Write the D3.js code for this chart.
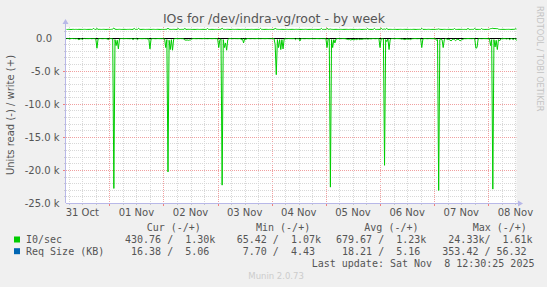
<!DOCTYPE html>
<html><head><meta charset="utf-8">
<script src="https://cdn.jsdelivr.net/npm/d3@7"></script>
<style>body{margin:0;background:#f0f0f0}svg{display:block}</style>
</head><body><svg id="c" width="547" height="287"></svg>
<script>
// ---- data (IO/sec, thousands; 30-minute samples starting 31 Oct 05:00) ----
const sampleStart = Date.UTC(2025, 9, 31, 5, 0);
const sampleStepMin = 30;
const readK = [
// 31 Oct 05:00-23:30
-0.15,-0.12,-0.15,-0.18,-0.15,-0.12,-0.15,-0.14,-0.16,-0.15,
-0.18,-0.32,-0.20,-0.15,-0.30,-0.16,-0.12,-0.15,-0.14,-0.15,
-0.15,-0.13,-0.16,-0.15,-0.14,-0.15,-0.20,-1.60,-0.20,-0.15,
-0.14,-0.15,-0.16,-0.15,-0.14,-0.15,-0.18,-0.30,
// 01 Nov
-0.15,-0.14,-0.15,-0.20,-22.8,-0.30,-1.20,-0.40,-1.70,-0.20,
-0.15,-0.14,-0.15,-0.16,-0.15,-0.14,-0.15,-0.15,-0.16,-0.15,
-0.14,-0.30,-0.15,-0.16,-0.15,-0.30,-0.15,-0.14,-0.15,-0.16,
-0.15,-0.14,-0.15,-0.15,-0.20,-0.15,-1.70,-0.20,-0.15,-0.14,
-0.15,-0.16,-0.15,-0.14,-0.15,-0.15,-0.16,-0.15,
// 02 Nov
-0.15,-0.20,-1.50,-0.30,-20.3,-0.40,-1.80,-0.30,-1.90,-0.25,
-0.15,-0.14,-0.15,-0.16,-0.15,-0.14,-0.15,-0.15,-0.20,-0.35,
-0.38,-0.35,-0.40,-0.36,-0.35,-0.20,-0.15,-0.14,-0.15,-0.16,
-0.15,-0.14,-0.15,-0.15,-0.16,-0.15,-0.14,-0.15,-0.15,-0.16,
-0.15,-0.14,-0.15,-0.16,-0.15,-0.14,-0.15,-0.15,
// 03 Nov
-0.15,-1.50,-0.30,-0.20,-22.3,-0.30,-1.50,-0.80,-1.90,-0.30,
-0.15,-0.14,-0.15,-0.16,-0.15,-0.14,-0.15,-0.15,-0.16,-0.15,
-0.14,-0.30,-0.15,-0.80,-0.15,-0.30,-0.15,-0.14,-0.15,-0.16,
-0.15,-0.14,-0.15,-0.16,-0.15,-0.14,-0.15,-0.15,-0.16,-0.15,
-0.14,-0.15,-0.16,-0.15,-0.14,-0.15,-0.15,-0.16,
// 04 Nov
-0.15,-0.14,-0.15,-1.00,-5.60,-0.30,-1.50,-0.30,-1.80,-0.30,
-1.70,-0.20,-0.15,-0.16,-0.15,-0.14,-0.15,-0.15,-0.16,-0.15,
-0.14,-0.30,-0.15,-0.16,-0.15,-0.50,-0.15,-0.14,-0.15,-0.16,
-0.15,-0.14,-0.15,-0.16,-0.15,-0.14,-0.15,-0.15,-0.16,-0.15,
-0.14,-0.15,-0.16,-0.15,-0.14,-0.15,-0.15,-0.16,
// 05 Nov
-0.15,-1.50,-0.20,-0.15,-22.6,-0.30,-1.50,-0.30,-0.80,-0.20,
-0.15,-0.14,-0.15,-0.16,-0.15,-0.14,-0.15,-0.15,-0.20,-0.25,
-0.30,-0.22,-0.40,-0.25,-0.30,-0.35,-0.22,-0.30,-0.25,-0.20,
-0.30,-0.22,-0.25,-0.20,-0.18,-0.20,-0.15,-0.22,-0.20,-0.15,
-0.20,-0.15,-0.14,-0.15,-0.16,-0.15,-0.14,-0.15,
// 06 Nov
-1.50,-0.20,-0.15,-0.20,-19.3,-0.30,-0.60,-0.20,-1.80,-0.30,
-0.15,-0.14,-0.15,-0.16,-0.15,-0.14,-0.15,-0.15,-0.16,-0.22,
-0.20,-0.25,-0.30,-0.22,-0.20,-0.25,-0.22,-0.30,-0.20,-0.15,
-0.15,-0.14,-0.15,-0.16,-0.15,-0.14,-0.20,-1.50,-0.20,-0.15,
-0.14,-0.15,-0.16,-0.15,-0.14,-0.15,-0.15,-0.16,
// 07 Nov
-0.15,-0.14,-0.40,-0.30,-23.1,-0.30,-0.20,-0.30,-1.50,-0.30,
-0.15,-0.20,-0.30,-0.25,-0.35,-0.50,-0.30,-0.25,-0.30,-0.45,
-0.30,-0.25,-0.30,-0.50,-0.35,-0.30,-0.20,-0.15,-0.16,-0.15,
-0.14,-0.15,-0.15,-0.16,-0.15,-0.14,-0.20,-1.60,-1.50,-0.20,
-0.14,-0.15,-0.16,-0.15,-0.14,-0.15,-0.15,-0.16,
// 08 Nov 00:00-12:30
-0.15,-0.14,-1.20,-0.30,-22.9,-0.30,-1.40,-0.40,-1.80,-0.30,
-0.50,-0.20,-0.15,-0.16,-0.15,-0.14,-0.20,-0.15,-0.15,-0.30,
-0.15,-0.14,-0.30,-0.15,-0.16,-0.43
];
const writeK = [
// 31 Oct
1.25,1.24,1.26,1.25,1.23,1.25,1.26,1.24,1.25,1.25,
1.24,1.26,1.25,1.25,1.24,1.25,1.26,1.25,1.24,1.25,
1.25,1.26,1.24,1.25,1.42,1.25,1.24,1.38,1.25,1.26,
1.25,1.24,1.25,1.26,1.25,1.24,1.25,1.26,
// 01 Nov
1.25,1.24,1.26,1.30,1.45,1.28,1.25,1.24,1.25,1.26,
1.25,1.24,1.25,1.26,1.25,1.24,1.25,1.25,1.26,1.25,
1.24,1.25,1.40,1.25,1.26,1.25,1.42,1.25,1.24,1.25,
1.26,1.25,1.24,1.25,1.25,1.26,1.25,1.24,1.25,1.26,
1.25,1.24,1.25,1.26,1.25,1.24,1.25,1.25,
// 02 Nov
1.25,1.24,1.26,1.28,1.42,1.27,1.25,1.24,1.25,1.26,
1.25,1.24,1.25,1.38,1.25,1.24,1.25,1.25,1.26,1.40,
1.24,1.25,1.26,1.25,1.26,1.25,1.24,1.25,1.24,1.25,
1.26,1.25,1.24,1.25,1.25,1.26,1.25,1.24,1.25,1.38,
1.25,1.24,1.25,1.26,1.25,1.24,1.25,1.25,
// 03 Nov
1.25,1.24,1.26,1.27,1.42,1.26,1.25,1.24,1.25,1.26,
1.25,1.24,1.25,1.26,1.25,1.24,1.25,1.25,1.26,1.25,
1.24,1.25,1.26,1.25,1.26,1.25,1.24,1.25,1.24,1.25,
1.26,1.25,1.24,1.25,1.25,1.26,1.25,1.24,1.40,1.25,
1.25,1.24,1.25,1.26,1.25,1.24,1.25,1.25,
// 04 Nov
1.25,1.24,1.26,1.40,1.30,1.26,1.25,1.24,1.25,1.26,
1.25,1.24,1.25,1.26,1.25,1.24,1.25,1.25,1.26,1.25,
1.24,1.25,1.26,1.25,1.26,1.25,1.24,1.25,1.24,1.25,
1.26,1.25,1.24,1.25,1.25,1.26,1.25,1.24,1.25,1.25,
1.25,1.24,1.25,1.26,1.40,1.24,1.25,1.25,
// 05 Nov
1.25,1.42,1.26,1.27,1.30,1.26,1.25,1.24,1.25,1.26,
1.25,1.24,1.25,1.26,1.25,1.24,1.25,1.25,1.26,1.25,
1.24,1.25,1.26,1.25,1.26,1.25,1.24,1.25,1.24,1.25,
1.26,1.25,1.24,1.25,1.25,1.26,1.25,1.38,1.25,1.25,
1.25,1.24,1.25,1.40,1.25,1.24,1.25,1.25,
// 06 Nov
1.25,1.42,1.26,1.27,1.30,1.26,1.40,1.24,1.25,1.26,
1.25,1.24,1.25,1.26,1.25,1.24,1.25,1.25,1.26,1.25,
1.24,1.25,1.26,1.25,1.26,1.25,1.24,1.25,1.24,1.25,
1.26,1.25,1.24,1.25,1.25,1.26,1.25,1.42,1.25,1.25,
1.25,1.24,1.25,1.26,1.25,1.24,1.25,1.25,
// 07 Nov
1.25,1.24,1.26,1.27,1.32,1.26,1.25,1.24,1.25,1.26,
1.25,1.24,1.25,1.26,1.25,1.24,1.25,1.25,1.38,1.25,
1.24,1.25,1.26,1.25,1.26,1.25,1.24,1.25,1.24,1.25,
1.40,1.25,1.24,1.25,1.25,1.26,1.40,1.24,1.25,1.25,
1.25,1.24,1.38,1.26,1.25,1.24,1.25,1.25,
// 08 Nov
1.25,1.28,1.36,1.38,1.42,1.37,1.38,1.36,1.37,1.28,
1.25,1.24,1.25,1.26,1.25,1.24,1.25,1.25,1.26,1.25,
1.24,1.25,1.26,1.25,1.35,1.30
];
const yTickValues = [0, -5, -10, -15, -20, -25];
const yTickLabels = ["0.0", "-5.0 k", "-10.0 k", "-15.0 k", "-20.0 k", "-25.0 k"];
const dayLabels = ["31 Oct","01 Nov","02 Nov","03 Nov","04 Nov","05 Nov","06 Nov","07 Nov","08 Nov"];
const legendNames = ["I0/sec", "Req Size (KB)"];
const legendColors = ["#00cc00", "#0066b3"];
const colHeaders = ["Cur (-/+)", "Min (-/+)", "Avg (-/+)", "Max (-/+)"];
const colValues = [
  ["430.76 /  1.30k", " 65.42 /  1.07k", "679.67 /  1.23k", " 24.33k/  1.61k"],
  [" 16.38 /  5.06 ", "  7.70 /  4.43 ", " 18.21 /  5.16 ", "353.42 / 56.32 "]
];
const lastUpdate = "Last update: Sat Nov  8 12:30:25 2025";

// ---- drawing ----
const svg = d3.select("#c");
const L = 66, R = 516.5, T = 27, B = 203;
const t0 = new Date(Date.UTC(2025, 9, 31, 4, 47));
const t1 = new Date(Date.UTC(2025, 10, 8, 12, 30));
const x = d3.scaleUtc().domain([t0, t1]).range([L, R]);
const y = d3.scaleLinear().domain([-25, 1.61]).range([B, T]);
const times = readK.map((_, i) => new Date(sampleStart + i * sampleStepMin * 60000));

svg.append("rect").attr("width", 547).attr("height", 287).attr("fill", "#f0f0f0");
svg.append("rect").attr("x", L).attr("y", T).attr("width", R - L).attr("height", B - T).attr("fill", "#ffffff");

const px = v => Math.round(v) + 0.5;
const g = svg.append("g");
// minor vertical grid (6h)
const hours = d3.utcHour.every(6).range(t0, t1);
hours.forEach(h => {
  const major = h.getUTCHours() === 0;
  const xx = px(x(h));
  g.append("line").attr("x1", xx).attr("x2", xx).attr("y1", T).attr("y2", B)
    .attr("stroke", major ? "#f0a0a0" : "#d8d8d8").attr("stroke-dasharray", "1,1");
  g.append("line").attr("x1", xx).attr("x2", xx).attr("y1", B).attr("y2", B + (major ? 3 : 2))
    .attr("stroke", major ? "#f08080" : "#c8c8c8");
});
// horizontal grid (1k minor, 5k major)
d3.range(-24, 2).forEach(v => {
  if (v === 0) return;
  const major = v % 5 === 0;
  const yy = px(y(v));
  g.append("line").attr("x1", L).attr("x2", R).attr("y1", yy).attr("y2", yy)
    .attr("stroke", major ? "#f0a0a0" : "#d8d8d8").attr("stroke-dasharray", "1,1");
  g.append("line").attr("x1", L - (major ? 3 : 2)).attr("x2", L).attr("y1", yy).attr("y2", yy)
    .attr("stroke", major ? "#f08080" : "#c8c8c8");
});
// zero line
g.append("line").attr("x1", L).attr("x2", R).attr("y1", px(y(0))).attr("y2", px(y(0)))
  .attr("stroke", "#000").attr("stroke-width", 1);

// data lines
const line = d3.line().x((d, i) => x(times[i])).y(d => y(d));
svg.append("path").datum(readK).attr("d", line)
  .attr("fill", "none").attr("stroke", "#00cc00").attr("stroke-width", 1);
svg.append("path").datum(writeK).attr("d", line)
  .attr("fill", "none").attr("stroke", "#00cc00").attr("stroke-width", 1);

// axes
const axisCol = "#b8b8e8";
svg.append("line").attr("x1", L).attr("x2", 518).attr("y1", B + 0.5).attr("y2", B + 0.5).attr("stroke", axisCol);
svg.append("path").attr("d", `M518,${B - 2.5}L523,${B + 0.5}L518,${B + 3.5}Z`).attr("fill", axisCol);
svg.append("line").attr("x1", L - 0.5).attr("x2", L - 0.5).attr("y1", B).attr("y2", 24).attr("stroke", axisCol);
svg.append("path").attr("d", `M${L - 3.5},24L${L - 0.5},19L${L + 2.5},24Z`).attr("fill", axisCol);

const font = "DejaVu Sans, sans-serif";
const mono = "DejaVu Sans Mono, monospace";
// y tick labels
svg.selectAll(".yl").data(yTickValues).enter().append("text")
  .attr("x", (d, i) => i === 0 ? 52 : 59.5).attr("y", d => y(d) + 4)
  .attr("text-anchor", "end").attr("font-family", font).attr("font-size", 10).attr("fill", "#555")
  .text((d, i) => yTickLabels[i]);
// x day labels at noon
svg.selectAll(".xl").data(dayLabels).enter().append("text")
  .attr("x", (d, i) => x(new Date(Date.UTC(2025, 9, 31 + i, 12, 0))))
  .attr("y", 216).attr("text-anchor", "middle").attr("font-family", font).attr("font-size", 10).attr("fill", "#555")
  .text(d => d);

// title
svg.append("text").attr("x", 274).attr("y", 23).attr("text-anchor", "middle")
  .attr("font-family", font).attr("font-size", 12.5).attr("fill", "#555")
  .text("IOs for /dev/indra-vg/root - by week");
// y axis title
svg.append("text").attr("transform", "translate(14,115) rotate(-90)").attr("text-anchor", "middle")
  .attr("font-family", font).attr("font-size", 10).attr("fill", "#555")
  .text("Units read (-) / write (+)");
// watermark
svg.append("text").attr("transform", "translate(537,6) rotate(90)").attr("text-anchor", "start")
  .attr("font-family", font).attr("font-size", 8.2).attr("fill", "#c4c4c4")
  .text("RRDTOOL / TOBI OETIKER");

// legend
const colX = [125, 230.7, 336, 442.3];
const hdrX = [146.7, 256, 364.3, 472.7];
colHeaders.forEach((h, i) => svg.append("text").attr("x", hdrX[i]).attr("y", 231)
  .attr("font-family", mono).attr("font-size", 10).attr("fill", "#555").attr("xml:space", "preserve").text(h));
legendNames.forEach((n, r) => {
  const yy = 243 + r * 11.7;
  svg.append("rect").attr("x", 14).attr("y", yy - 6.5).attr("width", 6).attr("height", 6).attr("fill", legendColors[r]);
  svg.append("text").attr("x", 26).attr("y", yy).attr("font-family", mono).attr("font-size", 10)
    .attr("fill", "#555").attr("xml:space", "preserve").text(n);
  colValues[r].forEach((v, c) => svg.append("text").attr("x", colX[c]).attr("y", yy)
    .attr("font-family", mono).attr("font-size", 10).attr("fill", "#555")
    .attr("xml:space", "preserve").style("white-space", "pre").text(v));
});
svg.append("text").attr("x", 311.7).attr("y", 266.5).attr("font-family", mono).attr("font-size", 10)
  .attr("fill", "#555").attr("xml:space", "preserve").style("white-space", "pre").text(lastUpdate);
svg.append("text").attr("x", 248.3).attr("y", 279).attr("font-family", font).attr("font-size", 8.5)
  .attr("fill", "#cccccc").text("Munin 2.0.73");
</script></body></html>
